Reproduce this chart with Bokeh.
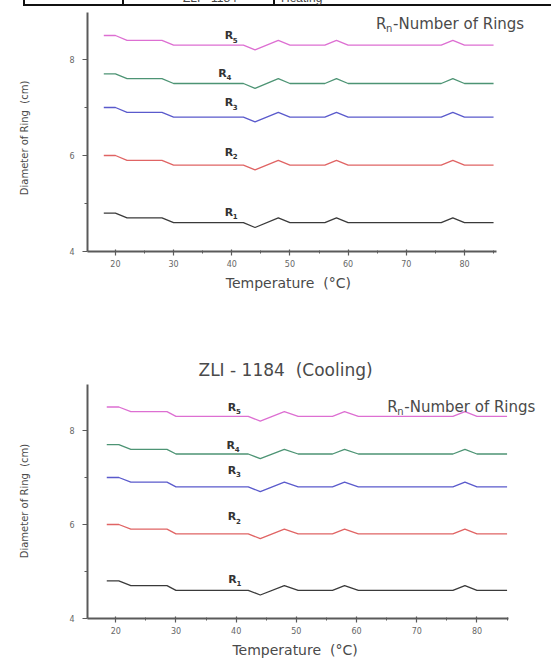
from bokeh.plotting import figure
from bokeh.layouts import column
from bokeh.models import FixedTicker, Label, Title, Div
from bokeh.core.properties import value
from bokeh.embed import file_html
from bokeh.resources import INLINE

# ---------------- data ----------------
temp_heat = [18, 20, 22, 28, 30, 42, 44, 48, 50, 56, 58, 60, 76, 78, 80, 85]
r1_heat = [4.8, 4.8, 4.7, 4.7, 4.6, 4.6, 4.5, 4.7, 4.6, 4.6, 4.7, 4.6, 4.6, 4.7, 4.6, 4.6]
r2_heat = [6.0, 6.0, 5.9, 5.9, 5.8, 5.8, 5.7, 5.9, 5.8, 5.8, 5.9, 5.8, 5.8, 5.9, 5.8, 5.8]
r3_heat = [7.0, 7.0, 6.9, 6.9, 6.8, 6.8, 6.7, 6.9, 6.8, 6.8, 6.9, 6.8, 6.8, 6.9, 6.8, 6.8]
r4_heat = [7.7, 7.7, 7.6, 7.6, 7.5, 7.5, 7.4, 7.6, 7.5, 7.5, 7.6, 7.5, 7.5, 7.6, 7.5, 7.5]
r5_heat = [8.5, 8.5, 8.4, 8.4, 8.3, 8.3, 8.2, 8.4, 8.3, 8.3, 8.4, 8.3, 8.3, 8.4, 8.3, 8.3]

temp_cool = [18.5, 20.5, 22.5, 28.5, 30, 42, 44, 48, 50.3, 56, 58, 60.3, 76, 78, 80, 85]
r1_cool = [4.8, 4.8, 4.7, 4.7, 4.6, 4.6, 4.5, 4.7, 4.6, 4.6, 4.7, 4.6, 4.6, 4.7, 4.6, 4.6]
r2_cool = [6.0, 6.0, 5.9, 5.9, 5.8, 5.8, 5.7, 5.9, 5.8, 5.8, 5.9, 5.8, 5.8, 5.9, 5.8, 5.8]
r3_cool = [7.0, 7.0, 6.9, 6.9, 6.8, 6.8, 6.7, 6.9, 6.8, 6.8, 6.9, 6.8, 6.8, 6.9, 6.8, 6.8]
r4_cool = [7.7, 7.7, 7.6, 7.6, 7.5, 7.5, 7.4, 7.6, 7.5, 7.5, 7.6, 7.5, 7.5, 7.6, 7.5, 7.5]
r5_cool = [8.5, 8.5, 8.4, 8.4, 8.3, 8.3, 8.2, 8.4, 8.3, 8.3, 8.4, 8.3, 8.3, 8.4, 8.3, 8.3]

ring_subs = ["1", "2", "3", "4", "5"]
ring_colors = ["#3a3a3a", "#e06464", "#5a5acc", "#4d9474", "#dd6fd2"]

x_major = [20, 30, 40, 50, 60, 70, 80]
x_minor = [25, 35, 45, 55, 65, 75, 85]
y_major = [4, 6, 8]
y_minor = [5, 7]

# table header fragment cut at the top of the page
table_cells = ["ZLI - 1184", "Heating"]

# label anchor positions (annotation placement)
lab_heat_x = [39.5, 39.5, 39.5, 38.4, 39.5]
lab_heat_y = [4.82, 6.07, 7.1, 7.71, 8.5]
lab_cool_x = [39.4, 39.3, 39.3, 39.1, 39.3]
lab_cool_y = [4.84, 6.16, 7.15, 7.69, 8.49]

FONT = "DejaVu Sans"
AX = "#5a5a5a"
TXT = "#4a4a4a"
NB = "\u00a0"


def make_panel(height, xr, yr, xb, yb, borders, temps, series, lab_x, lab_y,
               legend_xy, ylabel, xlabel):
    p = figure(width=551, height=height, x_range=xr, y_range=yr,
               output_backend="svg", toolbar_location=None,
               min_border_left=borders[0], min_border_right=borders[1],
               min_border_top=borders[2], min_border_bottom=borders[3])
    p.outline_line_color = None
    p.grid.visible = False
    p.background_fill_color = "white"
    p.border_fill_color = "white"

    for ys, c in zip(series, ring_colors):
        p.line(temps, ys, line_color=c, line_width=1.3)

    # ring labels R_i
    p.text(x=lab_x, y=lab_y, text=["R"] * 5, text_font=value(FONT),
           text_font_style="bold", text_font_size="11px", text_color="#333333",
           text_align="center", text_baseline="middle")
    p.text(x=lab_x, y=lab_y, text=ring_subs, text_font=value(FONT),
           text_font_style="bold", text_font_size="7px", text_color="#333333",
           text_align="left", text_baseline="middle", x_offset=4, y_offset=4)

    # "Rn-Number of Rings"
    lx, ly = legend_xy
    p.add_layout(Label(x=lx, y=ly, text="R", text_font=FONT, text_font_size="15px",
                       text_color=TXT, text_baseline="middle"))
    p.add_layout(Label(x=lx, y=ly, text="n", text_font=FONT, text_font_size="10px",
                       text_color=TXT, text_baseline="middle", x_offset=10, y_offset=-5))
    p.add_layout(Label(x=lx, y=ly, text="-Number of Rings", text_font=FONT,
                       text_font_size="15px", text_color=TXT, text_baseline="middle",
                       x_offset=17))

    p.xaxis.ticker = FixedTicker(ticks=x_major, minor_ticks=x_minor)
    p.yaxis.ticker = FixedTicker(ticks=y_major, minor_ticks=y_minor)
    p.xaxis.bounds = xb
    p.yaxis.bounds = yb
    p.xaxis.axis_label = xlabel
    p.yaxis.axis_label = ylabel
    for ax in (p.xaxis, p.yaxis):
        ax.axis_line_color = AX
        ax.axis_line_width = 2
        ax.major_tick_line_color = AX
        ax.minor_tick_line_color = AX
        ax.major_tick_line_width = 1.2
        ax.minor_tick_line_width = 1
        ax.major_label_text_font = FONT
        ax.major_label_text_font_size = "8px"
        ax.major_label_text_color = "#666666"
        ax.axis_label_text_font = FONT
        ax.axis_label_text_font_style = "normal"
        ax.axis_label_text_color = TXT
    p.xaxis.major_tick_in = 2
    p.xaxis.major_tick_out = 4
    p.xaxis.minor_tick_in = 1
    p.xaxis.minor_tick_out = 2
    p.yaxis.major_tick_in = 0
    p.yaxis.major_tick_out = 5
    p.yaxis.minor_tick_in = 0
    p.yaxis.minor_tick_out = 3
    p.xaxis.major_label_standoff = 4
    p.xaxis.axis_label_standoff = 5
    p.xaxis.axis_label_text_font_size = "14px"
    p.yaxis.major_label_standoff = 8
    p.yaxis.axis_label_standoff = 36
    p.yaxis.axis_label_text_font_size = "10px"
    return p


# bottom edge of the table row that sits above the charts
strip_svg = (
    '<svg xmlns="http://www.w3.org/2000/svg" width="551" height="8" '
    'style="display:block">'
    '<line x1="23" y1="5" x2="551" y2="5" stroke="#111" stroke-width="2"/>'
    '<line x1="24" y1="0" x2="24" y2="6" stroke="#111" stroke-width="2"/>'
    '<line x1="123" y1="0" x2="123" y2="6" stroke="#111" stroke-width="2"/>'
    '<line x1="274" y1="0" x2="274" y2="6" stroke="#111" stroke-width="2"/>'
    '<text x="183" y="2" font-family="DejaVu Sans" font-size="12" fill="#444">'
    + table_cells[0] + '</text>'
    '<text x="281" y="2" font-family="DejaVu Sans" font-size="12" fill="#444">'
    + table_cells[1] + '</text>'
    '</svg>')
strip = Div(text=strip_svg, width=551, height=8, margin=0,
            styles={"overflow": "hidden", "height": "8px", "line-height": "0"})

ylab = "Diameter of Ring" + NB + NB + "(cm)"
xlab = "Temperature" + NB + NB + "(\u00b0C)"

# top panel: frame spans x 86..551, y 8..251 (page px)
p1 = make_panel(322, (15.2, 94.96), (4, 9.0625), (15.2, 85.5), (4, 8.98),
                (86, 0, 0, 79), temp_heat,
                [r1_heat, r2_heat, r3_heat, r4_heat, r5_heat],
                lab_heat_x, lab_heat_y, (64.8, 8.75), ylab + NB * 5, xlab + NB * 14)

# bottom panel: frame spans x 87..551, y 383..620 (page px)
p2 = make_panel(330, (15.3, 92.38), (4, 9.0), (15.3, 85.2), (4, 8.98),
                (87, 0, 53, 40), temp_cool,
                [r1_cool, r2_cool, r3_cool, r4_cool, r5_cool],
                lab_cool_x, lab_cool_y, (65.1, 8.51), ylab, xlab + NB * 11)
p2.add_layout(Title(text="ZLI - 1184" + NB + NB + "(Cooling)", align="left", offset=111,
                    standoff=7, text_font=FONT, text_font_size="17px",
                    text_font_style="normal", text_color=TXT), "above")

layout = column(strip, p1, p2, spacing=0)
open("out.html", "w").write(file_html(layout, INLINE))
